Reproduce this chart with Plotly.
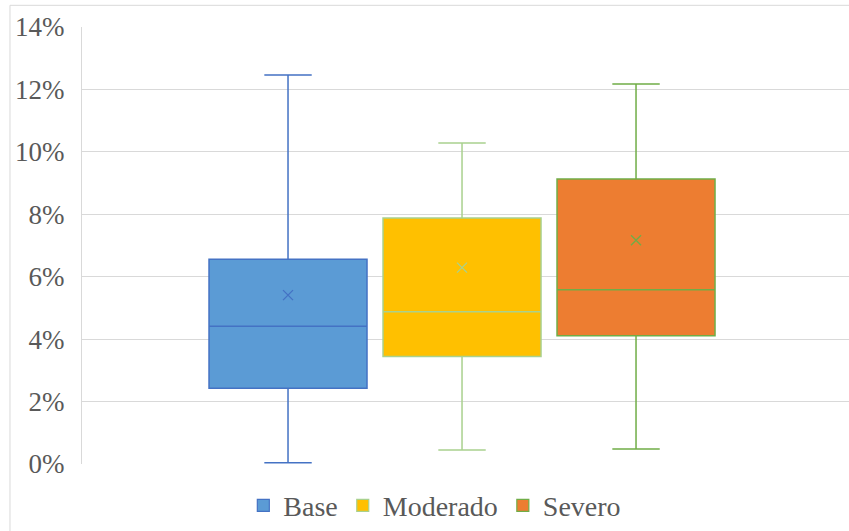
import plotly.graph_objects as go

categories = ["Base", "Moderado", "Severo"]
q1_vals = [0.0243, 0.0344, 0.0411]
median_vals = [0.0441, 0.0488, 0.0558]
q3_vals = [0.0656, 0.0788, 0.0913]
low_vals = [0.0004, 0.0045, 0.0048]
high_vals = [0.1246, 0.1028, 0.1217]
mean_vals = [0.0541, 0.0629, 0.0717]
y_ticks = [0, 0.02, 0.04, 0.06, 0.08, 0.10, 0.12, 0.14]
y_tick_labels = ["0%", "2%", "4%", "6%", "8%", "10%", "12%", "14%"]

fills = ["#5B9BD5", "#FFC000", "#ED7D31"]
lines = ["#4472C4", "#A9D18E", "#70AD47"]

FONT = "Liberation Serif"
TXT = "#595959"

fig = go.Figure()
for i, name in enumerate(categories):
    fig.add_trace(go.Box(
        x=[i], q1=[q1_vals[i]], median=[median_vals[i]], q3=[q3_vals[i]],
        lowerfence=[low_vals[i]], upperfence=[high_vals[i]],
        name=name, width=0.908, whiskerwidth=0.30,
        fillcolor=fills[i], line=dict(color=lines[i], width=1.5),
        boxpoints=False, showlegend=False, hoverinfo="skip",
    ))
    fig.add_trace(go.Scatter(
        x=[i], y=[mean_vals[i]], mode="markers",
        marker=dict(symbol="x-thin", size=10, line=dict(color=lines[i], width=1.3)),
        showlegend=False, hoverinfo="skip",
    ))
for i, name in enumerate(categories):
    fig.add_trace(go.Scatter(
        x=[None], y=[None], mode="markers", name=name,
        marker=dict(symbol="square", size=12, color=fills[i],
                    line=dict(color=lines[i], width=1.2)),
    ))

fig.update_layout(
    width=849, height=531,
    margin=dict(l=82, r=0, t=27, b=67),
    paper_bgcolor="white", plot_bgcolor="white",
    font=dict(family=FONT, size=27, color=TXT),
    showlegend=True,
    legend=dict(orientation="h", x=0.46, xanchor="center", y=-0.0955, yanchor="middle",
                font=dict(family=FONT, size=28, color=TXT), itemwidth=30,
                bgcolor="rgba(0,0,0,0)"),
    xaxis=dict(range=[-1.184, 3.224], showgrid=False, zeroline=False,
               showticklabels=False, showline=False, ticks=""),
    yaxis=dict(range=[0, 0.14], tickvals=y_ticks, ticktext=y_tick_labels,
               showgrid=True, gridcolor="#D9D9D9", gridwidth=1,
               zeroline=False, showline=True, linecolor="#D9D9D9", linewidth=1,
               ticks="", ticklabelstandoff=11,
               tickfont=dict(family=FONT, size=27, color=TXT)),
    shapes=[
        dict(type="line", xref="paper", yref="paper", x0=-0.0939, x1=-0.0939, y0=1.0496, y1=-0.2,
             line=dict(color="#D9D9D9", width=1)),
        dict(type="line", xref="paper", yref="paper", x0=-0.0939, x1=1.01, y0=1.0496, y1=1.0496,
             line=dict(color="#D9D9D9", width=1)),
    ],
)

fig.write_html("out.html")
